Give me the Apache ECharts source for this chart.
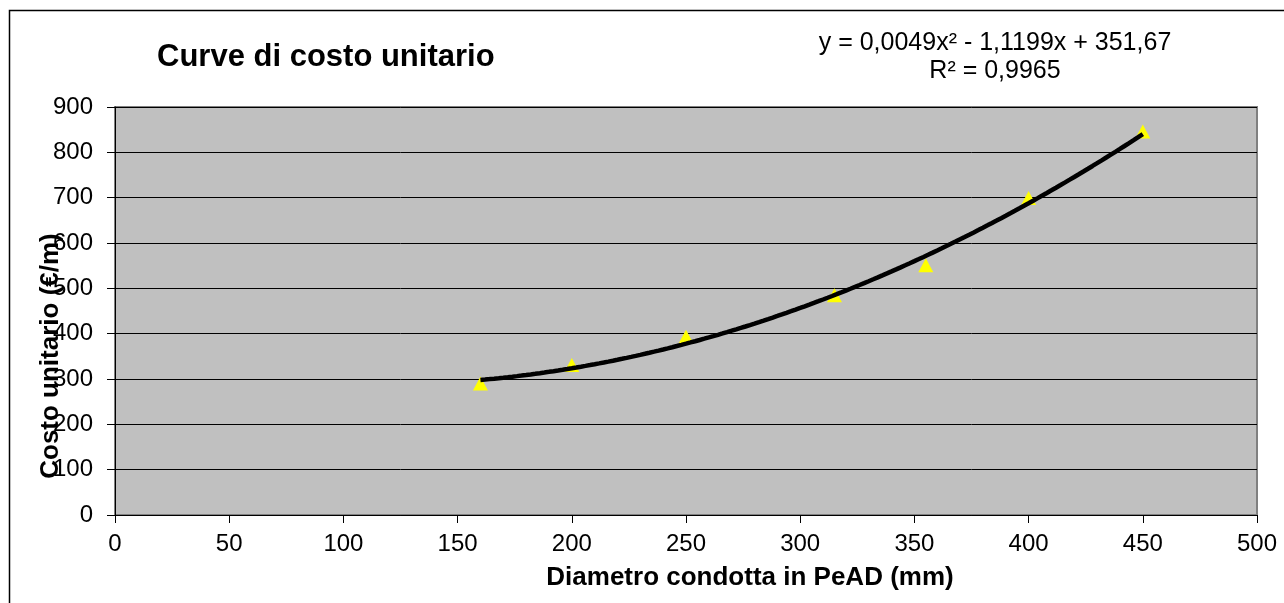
<!DOCTYPE html>
<html>
<head>
<meta charset="utf-8">
<script src="https://cdn.jsdelivr.net/npm/echarts@6/dist/echarts.min.js"></script>
<style>
  html, body { margin: 0; padding: 0; background: #fff; }
  #chart { width: 1284px; height: 603px; }
</style>
</head>
<body>
<div id="chart"></div>
<script>
// PE pipe diameters (mm) and unit cost (€/m)
const diameters = [160, 200, 250, 315, 355, 400, 450];
const unitCosts = [290, 331, 393, 485, 551, 699, 846];

// Quadratic trendline coefficients as printed: y = a·x² + b·x + c
const trendCoeffs = [0.0049, -1.1199, 351.67];
const trendLabel = ['y = 0,0049x\u00B2 - 1,1199x + 351,67', 'R\u00B2 = 0,9965'];

const xTicks = { min: 0, max: 500, interval: 50 };
const yTicks = { min: 0, max: 900, interval: 100 };

const FONT = '"Liberation Sans", Arial, sans-serif';

// trendline sampled across the measured diameter range
const trendPoints = [];
for (let x = diameters[0]; x <= diameters[diameters.length - 1]; x += 2) {
  const [a, b, c] = trendCoeffs;
  trendPoints.push([x, a * x * x + b * x + c]);
}

const chart = echarts.init(document.getElementById('chart'), null, { renderer: 'canvas' });

chart.setOption({
  backgroundColor: '#ffffff',
  animation: false,
  grid: {
    left: 115, top: 107, right: 27, bottom: 88,
    show: true,
    backgroundColor: '#C0C0C0',
    borderColor: '#808080',
    borderWidth: 2
  },
  xAxis: {
    type: 'value',
    min: xTicks.min, max: xTicks.max, interval: xTicks.interval,
    axisLine: { show: true, onZero: false, lineStyle: { color: '#000', width: 1 } },
    axisTick: { show: true, length: 8, lineStyle: { color: '#000' } },
    axisLabel: { color: '#000', fontFamily: FONT, fontSize: 24, margin: 17 },
    splitLine: { show: false }
  },
  yAxis: {
    type: 'value',
    min: yTicks.min, max: yTicks.max, interval: yTicks.interval,
    axisLine: { show: true, lineStyle: { color: '#000', width: 1 } },
    axisTick: { show: true, length: 8, lineStyle: { color: '#000' } },
    axisLabel: { color: '#000', fontFamily: FONT, fontSize: 24, margin: 22 },
    splitLine: { show: true, lineStyle: { color: '#000', width: 1 } }
  },
  graphic: [
    {
      type: 'rect',
      shape: { x: 9.5, y: 10.5, width: 1290, height: 600 },
      style: { fill: 'none', stroke: '#000', lineWidth: 1.5 },
      silent: true, z: -10
    },
    {
      type: 'text', x: 157, y: 57,
      style: {
        text: 'Curve di costo unitario', font: 'bold 31px ' + FONT, fill: '#000',
        verticalAlign: 'middle'
      }
    },
    {
      type: 'text', x: 995, y: 57,
      style: {
        text: trendLabel.join('\n'), font: '25px ' + FONT, fill: '#000',
        align: 'center', verticalAlign: 'middle', lineHeight: 28
      }
    },
    {
      type: 'text', x: 51, y: 356, rotation: Math.PI / 2,
      style: {
        text: 'Costo unitario (\u20AC/m)', font: 'bold 26px ' + FONT, fill: '#000',
        align: 'center', verticalAlign: 'middle'
      },
      z: 10
    },
    {
      type: 'text', x: 750, y: 578,
      style: {
        text: 'Diametro condotta in PeAD (mm)', font: 'bold 26px ' + FONT, fill: '#000',
        align: 'center', verticalAlign: 'middle'
      }
    }
  ],
  series: [
    {
      type: 'scatter',
      data: diameters.map((d, i) => [d, unitCosts[i]]),
      symbol: 'triangle',
      symbolSize: [15, 14],
      itemStyle: { color: '#FFFF00', opacity: 1 },
      z: 2
    },
    {
      type: 'line',
      data: trendPoints,
      showSymbol: false,
      smooth: false,
      lineStyle: { color: '#000', width: 4.5 },
      z: 3
    }
  ]
});
</script>
</body>
</html>
